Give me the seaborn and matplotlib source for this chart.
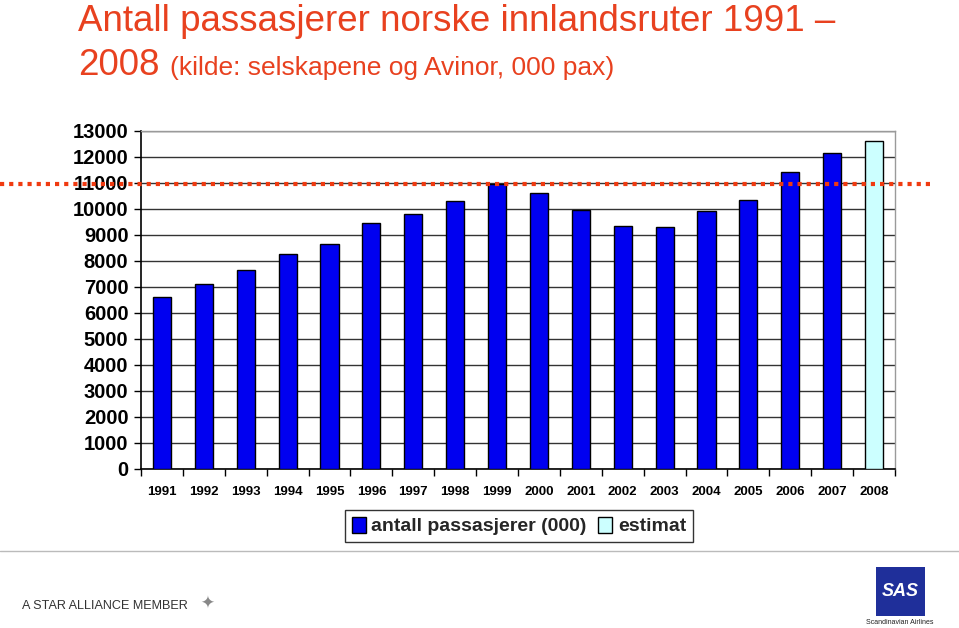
import matplotlib
matplotlib.use("Agg")
import matplotlib.pyplot as plt
import matplotlib.transforms as mtransforms
from matplotlib.patches import Rectangle, Patch
from matplotlib.lines import Line2D
import seaborn as sns
import pandas as pd

years = ["1991", "1992", "1993", "1994", "1995", "1996", "1997", "1998", "1999",
         "2000", "2001", "2002", "2003", "2004", "2005", "2006", "2007", "2008"]
passengers = [6620, 7130, 7670, 8260, 8650, 9460, 9800, 10300, 10950,
              10620, 9960, 9350, 9310, 9920, 10330, 11410, 12170, 12630]
series = ["antall passasjerer (000)"] * 17 + ["estimat"]
reference_level = 10980
y_ticks = [0, 1000, 2000, 3000, 4000, 5000, 6000, 7000, 8000, 9000, 10000,
           11000, 12000, 13000]

df = pd.DataFrame({"year": years, "value": passengers, "series": series})

sns.set_theme(style="white")
plt.rcParams["font.family"] = ["Liberation Sans", "DejaVu Sans"]

W, H = 959, 628
fig = plt.figure(figsize=(W / 100, H / 100), dpi=100)
ax = fig.add_axes([141 / W, 1 - 469 / H, (895 - 141) / W, (469 - 131) / H])

blue = "#0000F0"
cyan = "#CCFFFF"
sns.barplot(data=df, x="year", y="value", hue="series", dodge=False,
            palette={"antall passasjerer (000)": blue, "estimat": cyan},
            saturation=1, width=0.43, edgecolor="black", linewidth=1.0,
            ax=ax, zorder=3)
if ax.get_legend() is not None:
    ax.get_legend().remove()

ax.set_ylim(0, 13000)
ax.set_xlim(-0.5, len(years) - 0.5)
ax.set_yticks(y_ticks)
ax.set_yticklabels([str(t) for t in y_ticks], fontsize=14.5, fontweight="bold",
                   color="black")
ax.set_xticks(range(len(years)))
ax.set_xticklabels(years, fontsize=9.5, fontweight="bold", color="black")
ax.set_xticks([i - 0.5 for i in range(len(years) + 1)], minor=True)
ax.tick_params(axis="x", which="major", length=0, pad=12)
ax.tick_params(axis="x", which="minor", length=5, width=1, color="black",
               direction="out", bottom=True)
ax.tick_params(axis="y", which="major", length=5, width=1, color="black",
               direction="out", left=True, pad=4)
ax.set_xlabel("")
ax.set_ylabel("")

ax.yaxis.grid(True, color="#333333", linewidth=1.0, zorder=0)
ax.set_axisbelow(True)
for s in ["left", "bottom"]:
    ax.spines[s].set_color("black")
    ax.spines[s].set_linewidth(1.2)
for s in ["top", "right"]:
    ax.spines[s].set_color("#9A9A9A")
    ax.spines[s].set_linewidth(1.0)

# dotted reference line extending beyond the plot area
trans = mtransforms.blended_transform_factory(fig.transFigure, ax.transData)
ax.add_line(Line2D([0.0, 930 / W], [reference_level, reference_level],
                   transform=trans, color="#F03A10", linewidth=3.0,
                   linestyle=(0, (1, 1.2)), dash_capstyle="butt",
                   clip_on=False, zorder=5))

# title
red = "#E8411F"
fig.text(78 / W, 1 - 31 / H, "Antall passasjerer norske innlandsruter 1991 \u2013",
         fontsize=26.5, color=red, ha="left", va="baseline")
fig.text(78 / W, 1 - 75 / H, "2008", fontsize=26.5, color=red, ha="left",
         va="baseline")
fig.text(170 / W, 1 - 75 / H, "(kilde: selskapene og Avinor, 000 pax)",
         fontsize=19, color=red, ha="left", va="baseline")

# legend
handles = [Patch(facecolor=blue, edgecolor="black", label="antall passasjerer (000)"),
           Patch(facecolor=cyan, edgecolor="black", label="estimat")]
leg = fig.legend(handles=handles, loc="center", bbox_to_anchor=(519 / W, 1 - 526 / H),
                 ncol=2, frameon=True, fancybox=False, handlelength=0.7,
                 handleheight=0.9, handletextpad=0.3, columnspacing=0.6,
                 borderpad=0.35, prop={"weight": "bold", "size": 14})
leg.get_frame().set_edgecolor("black")
leg.get_frame().set_linewidth(1.0)

# footer
fig.add_artist(Line2D([0, 1], [1 - 551 / H, 1 - 551 / H], transform=fig.transFigure,
                      color="#BBBBBB", linewidth=1.0))
fig.text(22 / W, 1 - 609 / H, "A STAR ALLIANCE MEMBER", fontsize=9.1, color="#333333",
         ha="left", va="baseline")
fig.text(207 / W, 1 - 604 / H, "\u2726", fontsize=12, color="#888888",
         ha="center", va="center")
fig.add_artist(Rectangle((876 / W, 1 - 616 / H), 49 / W, 49 / H,
                         transform=fig.transFigure, facecolor="#1F2F9A",
                         edgecolor="none"))
fig.text(900 / W, 1 - 592 / H, "SAS", fontsize=13, color="white", fontweight="bold",
         style="italic", ha="center", va="center")
fig.text(900 / W, 1 - 624 / H, "Scandinavian Airlines", fontsize=5, color="#222222",
         ha="center", va="baseline")

fig.savefig("out.png", dpi=100)
